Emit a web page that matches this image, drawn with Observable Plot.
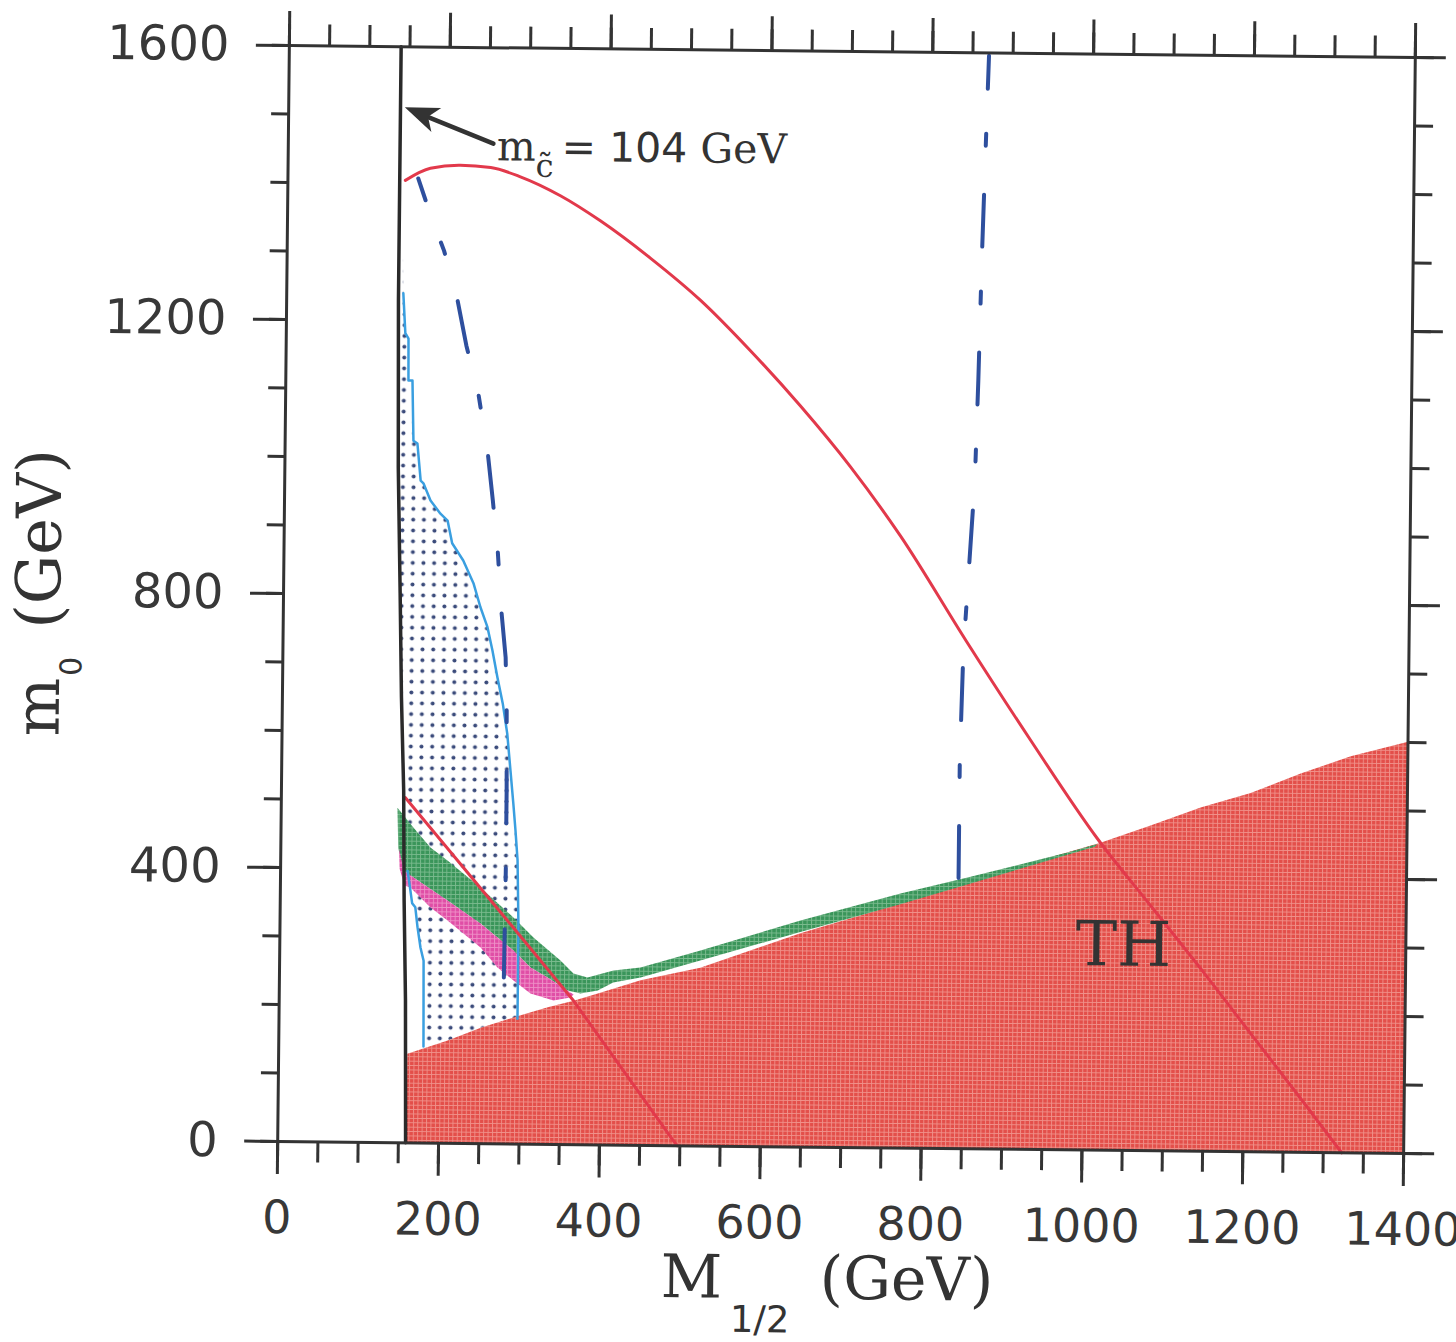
<!DOCTYPE html>
<html>
<head>
<meta charset="utf-8">
<script src="https://cdn.jsdelivr.net/npm/d3@7"></script>
<script src="https://cdn.jsdelivr.net/npm/@observablehq/plot@0.6"></script>
<style>
  body { margin: 0; background: #fff; }
  #chart { width: 1456px; height: 1342px; overflow: hidden; background: #fff; }
  /* the reference is a slightly skewed scan: reproduce its small clockwise tilt */
  #chart svg { transform: rotate(0.61deg); transform-origin: 846px 599px; }
</style>
</head>
<body>
<div id="chart"></div>
<script>
// ---------- tick values ----------
const xMajor = [0, 200, 400, 600, 800, 1000, 1200, 1400];
const xMinor = [0, 50, 100, 150, 200, 250, 300, 350, 400, 450, 500, 550, 600, 650, 700,
                750, 800, 850, 900, 950, 1000, 1050, 1100, 1150, 1200, 1250, 1300, 1350, 1400];
const yMajor = [0, 400, 800, 1200, 1600];
const yMinor = [0, 100, 200, 300, 400, 500, 600, 700, 800, 900, 1000, 1100, 1200, 1300, 1400, 1500, 1600];

// ---------- data (M1/2, m0) in GeV ----------
// chargino mass limit line m_chi = 104 GeV (top -> bottom)
const charginoLine = [[139,1600],[139,1230],[141,986],[145,802],[148,650],[152,514],[154,354],[157,208],[159,0]];

// TH : excluded region, top boundary
const thTop = [[160,130],[210,150],[251,169],[292,185],[334,200],[366,210],[396,221],[449,241],[523,260],
               [647,312],[771,357],[846,387],[895,405],[1019,449],[1081,475],[1143,502],[1205,524],
               [1267,553],[1329,579],[1400,601]];

// green band (upper edge left->right, lower edge right->left)
const greenUpper = [[144.5,489],[164.6,460.5],[186,431.6],[207.4,412.8],[248.7,373.9],[290.2,330.6],[315.3,301.7],
                    [349.2,268.5],[365.5,249.8],[383,244.1],[415.2,254.8],[448.7,259.6],[523.1,285.3],[647,330.7],
                    [771,371.6],[854.1,396],[978.1,434.1],[1015,447]];
const greenLower = [[1012,443],[854,386],[771,356],[647,314],[523,270.7],[449,245],[415,237.3],[396,225.3],
                    [374.5,220.7],[358.3,224.8],[333.3,243.5],[312,257.9],[290.6,282.4],[249.2,321.3],
                    [207.9,354.4],[165.3,387.5],[152.8,397.5],[146,430]];

// pink band
const pinkUpper = [[147,430],[152.8,397.5],[165.3,387.5],[207.9,354.4],[249.2,321.3],[290.6,282.4],[312,257.9],
                   [333.3,243.5],[358.3,224.8],[366,219]];
const pinkLower = [[362,214.7],[341,210],[312.3,219.9],[291,238.6],[270.9,257.3],[249.6,286.3],[208.2,325.2],
                   [186.9,343.9],[161.7,372.8],[154.2,375.7],[148,400]];

// light-blue outlined (dotted) region
const blueOutlineRight = [[145,1240],[148,1182],[152,1174],[152.5,1113],[157.5,1113],[159.5,1025],[164.5,1021],
                          [169,967],[172.5,963],[181.5,938],[194,919],[203,909],[209,876],[223,851],[236,818],
                          [245,783],[254,754],[260.5,720],[267,681],[274,643],[280,599],[284.5,545],[288.5,497],
                          [291.5,458],[294.5,414],[296.5,316],[296.5,183]];
const blueOutlineLeft = [[180,141],[179,266],[175,285],[171,315],[168,344],[164,350],[158,397]];

// dark blue dash-dot contours
const dashDotLeft = [[162,1408],[178,1354],[195,1303],[210,1245],[224,1165],[240,1092],[252,1009],[259,939],
                     [266,862],[271,779],[277,710],[279,633],[280,516],[280,399],[279,243]];
const dashDotRight = [[870,1596],[867,1458],[864,1312],[861,1122],[858,976],[851,830],[846,727],[843,567],[843,392]];

// red solid contours
const redUpper = [[146,1405],[177,1423],[214,1428],[252,1425],[289,1412],[339,1385],[389,1349],[452,1295],
                  [515,1234],[577,1162],[640,1082],[703,994],[766,894],[849,742],[931,597],[1015,455],
                  [1082,358],[1145,267],[1208,173],[1271,79],[1323,0]];
const redLower = [[154,504],[290,316],[366,210],[492,7],[497,0]];

// annotations
const arrowData = [{x1: 255, y1: 1460, x2: 145, y2: 1511}];
const mLabel = {x: 260, y: 1435};
const thLabel = [{text: "TH", x: 1049, y: 299}];

// ---------- build polygons from the arrays ----------
const thRegion = [[160, 0], ...thTop, [1400, 0]];
const greenBand = [...greenUpper, ...greenLower];
const pinkBand = [...pinkUpper, ...pinkLower];
const chargUpper = charginoLine.filter(d => d[1] >= 397);
const dottedRegion = [...blueOutlineRight, [251,169], [210,150], ...blueOutlineLeft, ...chargUpper.slice().reverse()];

const X = d => d[0], Y = d => d[1];

function defsMark() {
  const ns = "http://www.w3.org/2000/svg";
  const defs = document.createElementNS(ns, "defs");
  defs.innerHTML = `
    <pattern id="dots" patternUnits="userSpaceOnUse" width="10.7" height="10.8">
      <circle cx="5.3" cy="5.4" r="2" fill="#3a4a7a"/>
    </pattern>
    <pattern id="redgrid" patternUnits="userSpaceOnUse" width="4.4" height="4.4">
      <rect width="4.4" height="4.4" fill="#e34f4a"/>
      <path d="M0 0.5H4.4M0.5 0V4.4" stroke="#f0918a" stroke-width="0.9"/>
    </pattern>
    <pattern id="greengrid" patternUnits="userSpaceOnUse" width="4.4" height="4.4">
      <rect width="4.4" height="4.4" fill="#3a955a"/>
      <path d="M0 0.5H4.4M0.5 0V4.4" stroke="#7bbb8f" stroke-width="0.9"/>
    </pattern>
    <pattern id="pinkgrid" patternUnits="userSpaceOnUse" width="4.4" height="4.4">
      <rect width="4.4" height="4.4" fill="#e04ea6"/>
      <path d="M0 0.5H4.4M0.5 0V4.4" stroke="#ef92c8" stroke-width="0.9"/>
    </pattern>`;
  return defs;
}

const axisCommon = {stroke: "#333", strokeWidth: 3, label: null};
const blank = () => "";

const plot = Plot.plot({
  width: 1456,
  height: 1342,
  marginLeft: 283,
  marginRight: 47,
  marginTop: 51,
  marginBottom: 195,
  x: {domain: [0, 1400]},
  y: {domain: [0, 1600]},
  style: {background: "white", color: "#383838", fontFamily: "DejaVu Sans", overflow: "visible"},
  marks: [
    defsMark,
    Plot.line(dottedRegion, {x: X, y: Y, fill: "url(#dots)", stroke: "none"}),
    Plot.line(thRegion, {x: X, y: Y, fill: "url(#redgrid)", stroke: "none"}),
    Plot.line(greenBand, {x: X, y: Y, fill: "url(#greengrid)", stroke: "none"}),
    Plot.line(pinkBand, {x: X, y: Y, fill: "url(#pinkgrid)", stroke: "none"}),
    Plot.line(blueOutlineRight, {x: X, y: Y, stroke: "#3a9fe0", strokeWidth: 2.5}),
    Plot.line(blueOutlineLeft, {x: X, y: Y, stroke: "#3a9fe0", strokeWidth: 2.5}),
    Plot.line(dashDotLeft, {x: X, y: Y, stroke: "#2e4f9e", strokeWidth: 4, strokeDasharray: "52,45,12,49", strokeDashoffset: 29}),
    Plot.line(dashDotRight, {x: X, y: Y, stroke: "#2e4f9e", strokeWidth: 4, strokeDasharray: "52,45,12,49", strokeDashoffset: 19}),
    Plot.line(redUpper, {x: X, y: Y, stroke: "#e2394b", strokeWidth: 3, curve: "monotone-x"}),
    Plot.line(redLower, {x: X, y: Y, stroke: "#e2394b", strokeWidth: 3}),
    Plot.line(charginoLine, {x: X, y: Y, stroke: "#2a2a2a", strokeWidth: 3.5}),
    Plot.arrow(arrowData, {x1: "x1", y1: "y1", x2: "x2", y2: "y2", stroke: "#333", strokeWidth: 4.5, headLength: 0, insetEnd: 22}),
    Plot.frame({stroke: "#333", strokeWidth: 3}),
    Plot.axisX(xMinor, {...axisCommon, anchor: "bottom", tickSize: 21, tickFormat: blank}),
    Plot.axisX(xMajor, {...axisCommon, anchor: "bottom", tickSize: 33, tickPadding: 26, fontSize: 46, tickFormat: d => String(d)}),
    Plot.axisX(xMinor, {...axisCommon, anchor: "top", tickSize: 22, tickFormat: blank}),
    Plot.axisX(xMajor, {...axisCommon, anchor: "top", tickSize: 35, tickFormat: blank}),
    Plot.axisY(yMinor, {...axisCommon, anchor: "left", tickSize: 17, tickFormat: blank}),
    Plot.axisY(yMajor, {...axisCommon, anchor: "left", tickSize: 33, tickPadding: 27, fontSize: 48, tickFormat: d => String(d)}),
    Plot.axisY(yMinor, {...axisCommon, anchor: "right", tickSize: 18, tickFormat: blank}),
    Plot.axisY(yMajor, {...axisCommon, anchor: "right", tickSize: 30, tickFormat: blank}),
    Plot.text(thLabel, {x: "x", y: "y", text: "text", fontSize: 62, fontFamily: "DejaVu Serif", fill: "#333", textAnchor: "middle", lineAnchor: "middle"})
  ]
});

document.getElementById("chart").appendChild(plot);

// ---------- rich-text labels and arrow head ----------
const svg = d3.select(plot);
const sx = plot.scale("x"), sy = plot.scale("y");

// filled arrow head, oriented along the arrow (computed from the scaled data)
{
  const a = arrowData[0];
  const p1 = [sx.apply(a.x1), sy.apply(a.y1)], p2 = [sx.apply(a.x2), sy.apply(a.y2)];
  const L = Math.hypot(p2[0] - p1[0], p2[1] - p1[1]);
  const u = [(p2[0] - p1[0]) / L, (p2[1] - p1[1]) / L], n = [-u[1], u[0]];
  const base = [p2[0] - u[0] * 34, p2[1] - u[1] * 34];
  const notch = [p2[0] - u[0] * 25, p2[1] - u[1] * 25];
  const pts = [p2, [base[0] + n[0] * 13, base[1] + n[1] * 13], notch, [base[0] - n[0] * 13, base[1] - n[1] * 13]];
  svg.append("path").attr("d", "M" + pts.map(p => p.join(",")).join("L") + "Z").attr("fill", "#333");
}

const t = svg.append("text")
  .attr("x", sx.apply(mLabel.x)).attr("y", sy.apply(mLabel.y))
  .attr("text-anchor", "start").attr("fill", "#333").attr("font-size", 41);
t.append("tspan").attr("font-family", "DejaVu Serif").text("m");
t.append("tspan").attr("font-family", "DejaVu Serif").attr("font-size", 32).attr("dy", 16).text("c\u0303");
t.append("tspan").attr("font-family", "DejaVu Sans").attr("dy", -16).attr("dx", 8).text("= 104 ");
t.append("tspan").attr("font-family", "DejaVu Serif").text("GeV");

// x title: M_{1/2} (GeV)
const xt = svg.append("text").attr("x", 668).attr("y", 1299).attr("text-anchor", "start")
  .attr("fill", "#333").attr("font-size", 60).attr("font-family", "DejaVu Serif");
xt.append("tspan").text("M");
xt.append("tspan").attr("font-family", "DejaVu Sans").attr("font-size", 37).attr("dy", 34).attr("dx", 8).text("1/2");
xt.append("tspan").attr("dy", -34).attr("dx", 30).text("(GeV)");

// y title: m_0 (GeV)
const yt = svg.append("text").attr("transform", "translate(60,745) rotate(-90)").attr("text-anchor", "start")
  .attr("fill", "#333").attr("font-size", 62).attr("font-family", "DejaVu Serif");
yt.append("tspan").text("m");
yt.append("tspan").attr("font-family", "DejaVu Sans").attr("font-size", 30).attr("dy", 22).attr("dx", 2).text("0");
yt.append("tspan").attr("dy", -22).attr("dx", 28).text("(GeV)");
</script>
</body>
</html>
